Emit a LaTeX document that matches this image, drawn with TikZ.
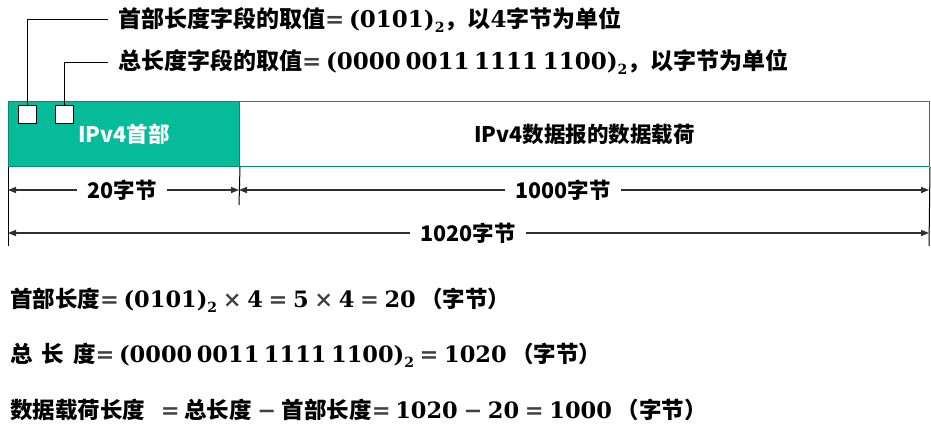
\documentclass[tikz,border=0pt]{standalone}
\usepackage{fontspec}
\setmainfont{Noto Sans CJK SC}
\newfontfamily\numf{DejaVu Serif}
\usetikzlibrary{arrows.meta}
\definecolor{hdrfill}{HTML}{06BB9A}
\definecolor{boxline}{HTML}{0F8870}
\definecolor{dimc}{HTML}{303030}
\definecolor{opc}{HTML}{404040}
\newcommand\nm[1]{{\numf\bfseries #1}}
\newcommand\gs{\hspace{0.2em}}
\newcommand\sbs[1]{\raisebox{-0.22em}{\fontsize{14}{14}\selectfont\numf\bfseries #1}}
\newcommand\opl[1]{{\numf\color{opc}#1}\hspace{0.2em}}
\newcommand\op[1]{\hspace{0.25em}{\numf\color{opc}#1}\hspace{0.25em}}
\tikzset{
  lab/.style={font=\fontsize{22.5}{28}\selectfont\bfseries, inner sep=0pt, anchor=west},
  toplab/.style={font=\fontsize{23}{28}\selectfont\bfseries, inner sep=0pt, anchor=west},
  boxtxt/.style={font=\fontsize{21.5}{24}\selectfont\bfseries},
  field/.style={draw=boxline, line width=1pt, minimum height=65pt, anchor=north west, inner sep=0pt},
  sq/.style={draw=black, fill=white, line width=1pt, minimum width=18pt, minimum height=18pt, inner sep=0pt},
  dim/.style={draw=dimc, line width=1.4pt, {Triangle[length=8pt,width=6pt]}-{Triangle[length=8pt,width=6pt]}},
  dimlab/.style={fill=white, font=\fontsize{21.5}{24}\selectfont\bfseries, inner xsep=10pt, inner ysep=0pt},
  tick/.style={draw=black, line width=1pt}
}
\begin{document}
\begin{tikzpicture}[x=1pt,y=-1pt]
\useasboundingbox (0,0) rectangle (931,429);
% fields
\node[field, fill=hdrfill, minimum width=231pt, text=white, boxtxt] (hdr) at (8,101) {IPv4首部};
\node[field, fill=white, minimum width=690pt, boxtxt] (pay) at (239,101) {IPv4数据报的数据载荷};
% small squares
\node[sq] (sq1) at (27,114) {};
\node[sq] (sq2) at (64,114) {};
% annotation texts
\coordinate (l1) at (108,19);
\coordinate (l2) at (108,62);
\node[toplab] (t1) at (118,20) {首部长度字段的取值\opl{=}\nm{(0101)}\sbs{2}，以\nm{4}字节为单位};
\node[toplab] (t2) at (118,62) {总长度字段的取值\opl{=}\nm{(0000\gs0011\gs1111\gs1100)}\sbs{2}，以字节为单位};
\draw[line width=1pt] (sq1.north) |- (l1);
\draw[line width=1pt] (sq2.north) |- (l2);
% ticks
\coordinate (k1) at (8,246);
\coordinate (k2) at (239,205);
\coordinate (k3) at (929,246);
\draw[tick] (hdr.south west) -- (k1);
\draw[tick] (hdr.south east) -- (k2);
\draw[tick] (pay.south east) -- (k3);
% dimension lines
\coordinate (a1) at (8,190);
\coordinate (a2) at (239,190);
\coordinate (a3) at (929,190);
\coordinate (b1) at (8,233);
\coordinate (b2) at (929,233);
\draw[dim] (a1) -- (a2);
\draw[dim] (a2) -- (a3);
\draw[dim] (b1) -- (b2);
\node[dimlab] (d1) at (122,190) {20字节};
\node[dimlab] (d2) at (563,190) {1000字节};
\node[dimlab] (d3) at (468,233) {1020字节};
% formulas
\node[lab] (f1) at (10,300) {首部长度\opl{=}\nm{(0101)}\sbs{2}\op{×}\nm{4}\op{=}\nm{5}\op{×}\nm{4}\op{=}\nm{20}\hspace{0.2em}（字节）};
\node[lab] (f2) at (10,355) {总\hspace{0.4em}长\hspace{0.4em}度\opl{=}\nm{(0000\gs0011\gs1111\gs1100)}\sbs{2}\op{=}\nm{1020}\hspace{0.2em}（字节）};
\node[lab] (f3) at (10,410) {数据载荷长度\hspace{0.7em}\opl{=}总长度\op{−}首部长度\opl{=}\nm{1020}\op{−}\nm{20}\op{=}\nm{1000}\hspace{0.2em}（字节）};
\end{tikzpicture}
\end{document}
